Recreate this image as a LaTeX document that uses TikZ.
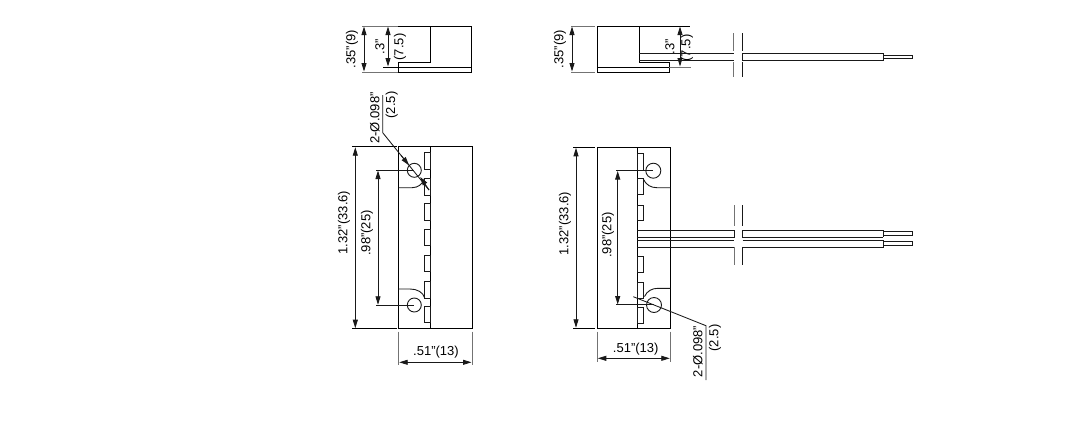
\documentclass[tikz,border=0pt]{standalone}
\usepackage{fontspec}
\setmainfont{Liberation Sans}
\usetikzlibrary{arrows.meta}
\tikzset{
  x=1pt,y=-1pt,
  part/.style={line width=1pt,black},
  thin part/.style={line width=0.9pt,black!90},
  ext/.style={line width=0.9pt,black!55},
  dim/.style={line width=0.85pt,black!90,{Triangle[length=8.5pt,width=5pt]}-{Triangle[length=8.5pt,width=5pt]}},
  lead/.style={line width=0.85pt,black!90},
  lbl/.style={font=\fontsize{13}{13}\selectfont,text=black,inner sep=0pt,anchor=center},
  vlbl/.style={lbl,rotate=90},
}
\begin{document}
\begin{tikzpicture}
\useasboundingbox[fill=white] (0,0) rectangle (1067,440);
%% ---------- top-left view
\draw[part] (430,26) -- (430,62) -- (398,62) -- (398,72);
\draw[part] (398,26) -- (471,26) -- (471,72) -- (398,72);
\draw[part] (383,67) -- (471,67);
\draw[ext] (362,26) -- (398,26) (362,72) -- (398,72);
\draw[dim] (364,26.5) -- (364,71.5);
\draw[dim] (388,26.5) -- (388,66.5);
\node[vlbl] (tl35) at (352,49) {.35"(9)};
\node[vlbl] (tl3) at (380,47) {.3"};
\node[vlbl] (tl75) at (400,47) {(7.5)};
%% ---------- top-right view
\draw[part] (639,26) -- (597,26) -- (597,72) -- (669,72) -- (669,62) -- (639,62) -- (639,26);
\draw[part] (597,67) -- (669,67);
\draw[ext] (571,26) -- (595,26) (571,72) -- (595,72);
\draw[part] (639,26) -- (690,26);
\draw[ext] (669,67) -- (691,67);
\draw[dim] (572,26.5) -- (572,71.5);
\draw[dim] (680,26.5) -- (680,66.5);
\node[vlbl] (tr35) at (560,49) {.35"(9)};
\node[vlbl] (tr3) at (670,47) {.3"};
\node[vlbl] (tr75) at (687,48) {(7.5)};
\draw[thin part] (639,53.3) -- (734,53.3) (639,60) -- (734,60);
\draw[thin part] (742,53.3) -- (883,53.3) -- (883,60) -- (742,60) -- cycle;
\draw[thin part] (883,55) -- (912.5,55) -- (912.5,58.5) -- (883,58.5);
\draw[ext] (733.5,33) -- (733.5,51) (733.5,62) -- (733.5,77);
\draw[thin part] (742,33) -- (742,51) (742,62) -- (742,77);
%% ---------- bottom-left view
\draw[part] (398.7,146.7) rectangle (472,328.7);
\draw[part] (430.3,146.7) -- (430.3,328.7);
\draw[part] (352,146.7) -- (397,146.7) (352,328.7) -- (397,328.7);
\foreach \a/\b in {152.3/169.3,178.3/195,203/220.7,229/245.5,255.7/271.7,281.7/298.3,306.7/322.7}
  \draw[thin part] (424.7,\a) rectangle (430.3,\b);
\draw[thin part] (414.3,170.3) circle[radius=7];
\draw[thin part] (414.3,305) circle[radius=7];
\draw[thin part] (398.7,187.7) -- (412,187.7) .. controls (418,187.7) and (423,184) .. (424.5,178.3);
\draw[thin part] (398.7,289) -- (410,289) .. controls (417,289) and (423,292) .. (424.7,298);
\draw[dim] (355.3,147.2) -- (355.3,328.2);
\draw[dim] (378,170.5) -- (378,304.8);
\draw[lead] (376,170.3) -- (414.3,170.3) (376,305) -- (414.3,305);
\draw[lead] (382.7,95) -- (382.7,132.7) -- (429,190);
\draw[lead,-{Triangle[length=8.5pt,width=5pt]}] (401,155.3) -- (409,165.2);
\draw[lead,-{Triangle[length=8.5pt,width=5pt]}] (429,190) -- (420.3,177);
\node[vlbl] (bl132) at (344,222.5) {1.32"(33.6)};
\node[vlbl] (bl98) at (367,233) {.98"(25)};
\node[vlbl] (blhole) at (375,118) {2-Ø.098"};
\node[vlbl] (blhole2) at (391.7,105) {(2.5)};
\draw[ext] (398.7,331.7) -- (398.7,365) (472,331.7) -- (472,365);
\draw[dim] (399.2,362.3) -- (471.5,362.3);
\node[lbl] (bl51) at (436,351.7) {.51"(13)};
%% ---------- bottom-right view
\draw[part] (597.3,147.3) rectangle (670.3,328.3);
\draw[part] (637.3,147.3) -- (637.3,328.3);
\draw[part] (573,147.3) -- (595,147.3) (573,328.3) -- (595,328.3);
\foreach \a/\b in {153.3/170,178.3/194.7,205/220.7,256/272,282/298,307/323}
  \draw[thin part] (637.3,\a) rectangle (643.3,\b);
\draw[thin part] (653.3,170.7) circle[radius=7.5];
\draw[thin part] (654,305) circle[radius=7.5];
\draw[thin part] (670.3,187.7) -- (657,187.7) .. controls (651,187.7) and (646,185) .. (643.3,179);
\draw[thin part] (670.3,288.3) -- (658,288.3) .. controls (652,288.3) and (647,291) .. (644.5,296.5);
\draw[dim] (576,147.8) -- (576,327.8);
\draw[dim] (617.7,171) -- (617.7,304.5);
\draw[lead] (616,170.7) -- (653.3,170.7) (616,304.6) -- (654,304.6);
\draw[lead] (633.3,296.7) -- (706,325.7) -- (706,380);
\node[vlbl] (br132) at (565,223.5) {1.32"(33.6)};
\node[vlbl] (br98) at (608,235) {.98"(25)};
\node[vlbl] (brhole) at (698,351.5) {2-Ø.098"};
\node[vlbl] (brhole2) at (715,338) {(2.5)};
\draw[ext] (597.3,331.7) -- (597.3,361.7) (670.3,331.7) -- (670.3,361.7);
\draw[dim] (597.8,358.3) -- (669.8,358.3);
\node[lbl] (br51) at (635.7,349) {.51"(13)};
%% wires
\draw[thin part] (637.3,230) -- (734,230) -- (734,237) -- (637.3,237);
\draw[thin part] (637.3,240) -- (734,240) (637.3,247) -- (734,247);
\draw[thin part] (883,230) -- (742.5,230) -- (742.5,237) -- (883,237);
\draw[thin part] (742.5,240) -- (883,240) -- (883,247) -- (742.5,247);
\draw[thin part] (883,230) -- (883,237);
\draw[thin part] (883,231.7) -- (912.7,231.7) -- (912.7,235.7) -- (883,235.7);
\draw[thin part] (883,241.7) -- (912.7,241.7) -- (912.7,245.7) -- (883,245.7);
\draw[ext] (734,205) -- (734,226) (734,247) -- (734,265);
\draw[thin part] (742.5,205) -- (742.5,226) (742.5,247) -- (742.5,265);
\end{tikzpicture}
\end{document}
